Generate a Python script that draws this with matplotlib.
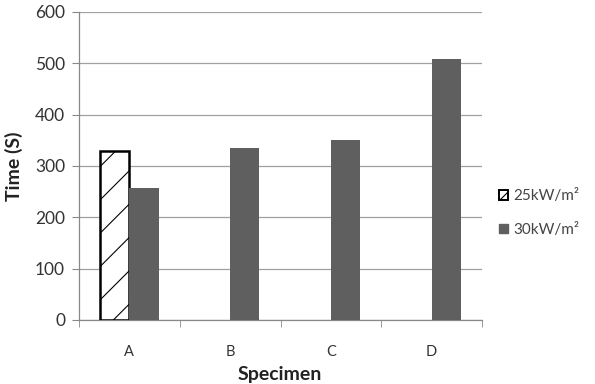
import matplotlib
matplotlib.use("Agg")
import matplotlib.pyplot as plt
import numpy as np
from matplotlib.patches import Patch

categories = ["A", "B", "C", "D"]
series_25 = [329, 0, 0, 0]
series_30 = [258, 335, 350, 508]
series_labels = ["25kW/m²", "30kW/m²"]
yticks = [0, 100, 200, 300, 400, 500, 600]

plt.rcParams['font.family'] = ['Lato', 'DejaVu Sans']
plt.rcParams['hatch.linewidth'] = 0.8

fig = plt.figure(figsize=(5.95, 3.84), dpi=100)
ax = fig.add_axes([79/595, 1 - 320/384, (482-79)/595, (320-12)/384])

x = np.arange(len(categories))
w = 0.29
mask = np.array(series_25) > 0
ax.bar(x[mask] - w/2, np.array(series_25)[mask], w, facecolor='white', edgecolor='black',
       linewidth=1.8, hatch='/', zorder=3)
ax.bar(x + w/2, series_30, w, color='#5f5f5f', zorder=3)

ax.set_xlim(-0.5, 3.5)
ax.set_ylim(0, 600)
ax.set_yticks(yticks)
ax.set_xticks(x)
ax.set_xticklabels(categories, fontsize=10.5, color='#333333')
ax.set_xticks(np.arange(-0.5, 3.6, 1), minor=True)
ax.tick_params(axis='x', which='major', length=0, pad=18)
ax.tick_params(axis='x', which='minor', length=5, color='#888888', direction='out')
ax.tick_params(axis='y', length=5, color='#888888', labelsize=12.5, labelcolor='#333333', pad=5)
ax.yaxis.grid(True, color='#a0a0a0', linewidth=0.9, zorder=0)
for s in ['top', 'right']:
    ax.spines[s].set_visible(False)
for s in ['left', 'bottom']:
    ax.spines[s].set_color('#888888')
    ax.spines[s].set_linewidth(0.9)

fig.text(14/595, 1 - 166/384, "Time (S)", rotation=90, ha='center', va='center',
         fontsize=14, fontweight='bold', color='#222222')
fig.text(280/595, 1 - 383/384, "Specimen", ha='center', va='bottom', fontsize=14,
         fontweight='bold', color='#222222')

handles = [Patch(facecolor='white', edgecolor='black', hatch='/', linewidth=1.4),
           Patch(facecolor='#5f5f5f', edgecolor='#5f5f5f')]
fig.legend(handles, series_labels, loc='center left', bbox_to_anchor=(499/595, 1 - 213/384),
           frameon=False, fontsize=11, handlelength=0.6, handleheight=0.6, handletextpad=0.35,
           labelspacing=1.3, labelcolor='#444444', borderpad=0, borderaxespad=0)

fig.savefig("out.png", dpi=100)
